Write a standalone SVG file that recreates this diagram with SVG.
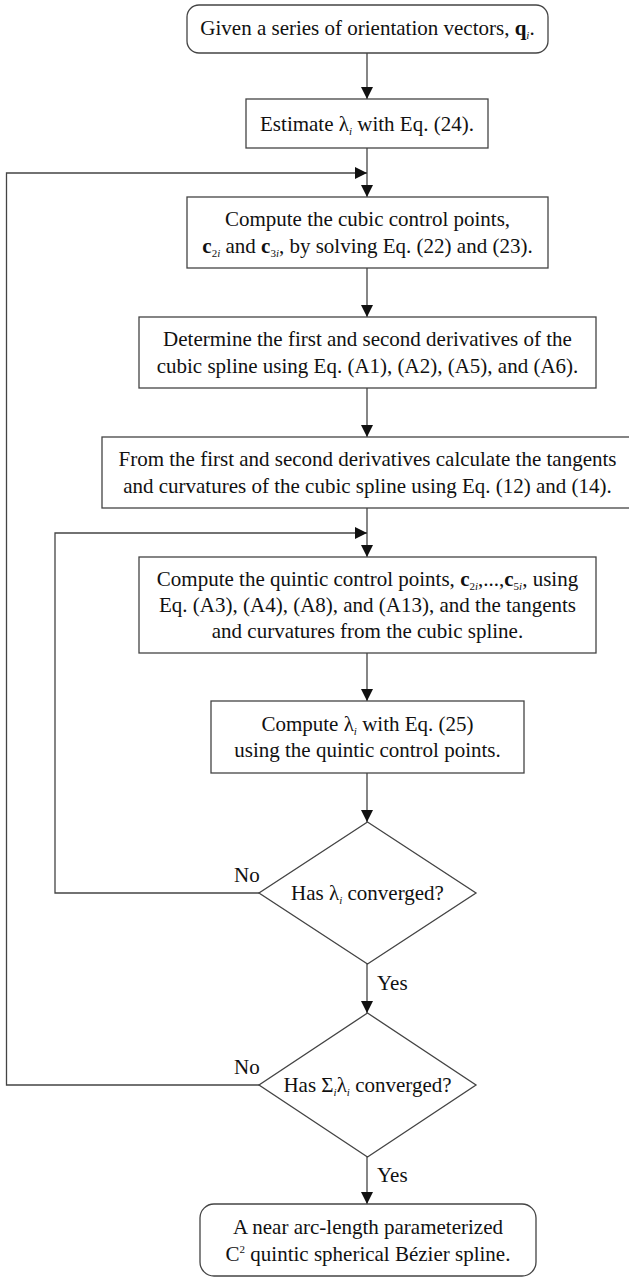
<svg xmlns="http://www.w3.org/2000/svg" width="629" height="1278" viewBox="0 0 629 1278">
<defs>
<marker id="ah" markerWidth="12" markerHeight="12" refX="12" refY="6" orient="auto" markerUnits="userSpaceOnUse"><path d="M0,0 L12,6 L0,12 Z" fill="#111"/></marker>
<style>
.box{fill:#fff;stroke:#444;stroke-width:1.3}
.edge{fill:none;stroke:#444;stroke-width:1.3}
text{font-family:"Liberation Serif","Times New Roman",serif;font-size:21px;fill:#111}
.t{text-anchor:middle}
.sub{font-size:11px;font-style:italic}
.sb{font-size:11px}
.b{font-weight:bold}
</style>
</defs>
<rect width="629" height="1278" fill="#fff"/>
<g id="connectors">
<path class="edge" d="M367,53 V99" marker-end="url(#ah)"/>
<path class="edge" d="M367,148 V197" marker-end="url(#ah)"/>
<path class="edge" d="M259,1085 H6.5 V173 H367" marker-end="url(#ah)"/>
<path class="edge" d="M367,268 V317" marker-end="url(#ah)"/>
<path class="edge" d="M367,388 V437" marker-end="url(#ah)"/>
<path class="edge" d="M367,508 V557" marker-end="url(#ah)"/>
<path class="edge" d="M259,893 H55 V533 H367" marker-end="url(#ah)"/>
<path class="edge" d="M367,653 V701" marker-end="url(#ah)"/>
<path class="edge" d="M367,773 V822" marker-end="url(#ah)"/>
<path class="edge" d="M367,964 V1013" marker-end="url(#ah)"/>
<path class="edge" d="M367,1157 V1204" marker-end="url(#ah)"/>
<text x="234" y="882">No</text>
<text x="377" y="990">Yes</text>
<text x="234" y="1074">No</text>
<text x="377" y="1182">Yes</text>
</g>
<g id="start">
<rect class="box" x="187" y="5" width="361" height="48" rx="12"/>
<text class="t" x="367.5" y="35">Given a series of orientation vectors, <tspan class="b">q</tspan><tspan class="sub" dy="4">i</tspan><tspan dy="-4">.</tspan></text>
</g>
<g id="estimate">
<rect class="box" x="246" y="99" width="242" height="49"/>
<text class="t" x="367" y="131">Estimate λ<tspan class="sub" dy="4">i</tspan><tspan dy="-4"> with Eq. (24).</tspan></text>
</g>
<g id="cubic">
<rect class="box" x="187" y="197" width="361" height="71"/>
<text class="t" x="367.5" y="226">Compute the cubic control points,</text>
<text class="t" x="367.5" y="253"><tspan class="b">c</tspan><tspan class="sb" dy="4">2</tspan><tspan class="sub">i</tspan><tspan dy="-4"> and </tspan><tspan class="b">c</tspan><tspan class="sb" dy="4">3</tspan><tspan class="sub">i</tspan><tspan dy="-4">, by solving Eq. (22) and (23).</tspan></text>
</g>
<g id="derivs">
<rect class="box" x="139" y="317" width="457" height="71"/>
<text class="t" x="367.5" y="346">Determine the first and second derivatives of the</text>
<text class="t" x="367.5" y="373">cubic spline using Eq. (A1), (A2), (A5), and (A6).</text>
</g>
<g id="tangents">
<rect class="box" x="102" y="437" width="540" height="71"/>
<text class="t" x="367.5" y="466">From the first and second derivatives calculate the tangents</text>
<text class="t" x="367.5" y="493">and curvatures of the cubic spline using Eq. (12) and (14).</text>
</g>
<g id="quintic">
<rect class="box" x="139" y="557" width="457" height="96"/>
<text class="t" x="367.5" y="586">Compute the quintic control points, <tspan class="b">c</tspan><tspan class="sb" dy="4">2</tspan><tspan class="sub">i</tspan><tspan dy="-4">,...,</tspan><tspan class="b">c</tspan><tspan class="sb" dy="4">5</tspan><tspan class="sub">i</tspan><tspan dy="-4">, using</tspan></text>
<text class="t" x="367.5" y="612">Eq. (A3), (A4), (A8), and (A13), and the tangents</text>
<text class="t" x="367.5" y="638">and curvatures from the cubic spline.</text>
</g>
<g id="lambda">
<rect class="box" x="211" y="701" width="313" height="72"/>
<text class="t" x="367.5" y="731">Compute λ<tspan class="sub" dy="4">i</tspan><tspan dy="-4"> with Eq. (25)</tspan></text>
<text class="t" x="367.5" y="757">using the quintic control points.</text>
</g>
<g id="conv1">
<polygon class="box" points="367.5,822 476,893 367.5,964 259,893"/>
<text class="t" x="367.5" y="900">Has λ<tspan class="sub" dy="4">i</tspan><tspan dy="-4"> converged?</tspan></text>
</g>
<g id="conv2">
<polygon class="box" points="367.5,1013 476,1085 367.5,1157 259,1085"/>
<text class="t" x="367.5" y="1092">Has Σ<tspan class="sub" dy="4">i</tspan><tspan dy="-4">λ</tspan><tspan class="sub" dy="4">i</tspan><tspan dy="-4"> converged?</tspan></text>
</g>
<g id="end">
<rect class="box" x="200" y="1204" width="336" height="72" rx="14"/>
<text class="t" x="368" y="1234">A near arc-length parameterized</text>
<text class="t" x="368" y="1261">C<tspan class="sb" dy="-8">2</tspan><tspan dy="8"> quintic spherical Bézier spline.</tspan></text>
</g>
</svg>
